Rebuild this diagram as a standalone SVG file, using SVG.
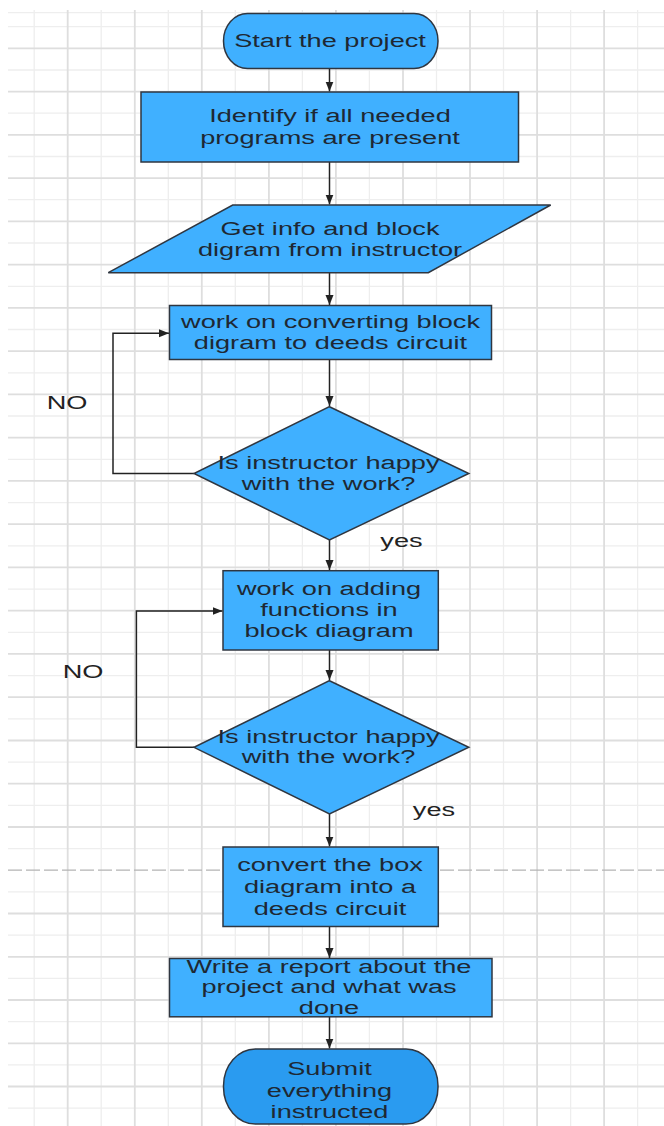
<svg xmlns="http://www.w3.org/2000/svg" width="664" height="1126" viewBox="0 0 664 1126">
  <style>
    .minor { stroke: #eeeeee; stroke-width: 1.3; fill: none; }
    .major { stroke: #dedede; stroke-width: 1.8; fill: none; }
    .dash { stroke: #b4b4b4; stroke-width: 1.2; stroke-dasharray: 14 4; fill: none; }
    .shape { fill: #40b0ff; stroke: #2f3640; stroke-width: 1.5; }
    .shape2 { fill: #2a9bf0; stroke: #2f3640; stroke-width: 1.5; }
    .t { font-family: "Liberation Sans", Arial, sans-serif; font-size: 19px; fill: #1e2833; text-anchor: middle; }
    .lbl { font-family: "Liberation Sans", Arial, sans-serif; font-size: 19px; fill: #222222; text-anchor: middle; }
    .conn { stroke: #222222; stroke-width: 1.5; fill: none; }
  </style>
  <defs>
    <marker id="arrow" markerUnits="userSpaceOnUse" markerWidth="11" markerHeight="9" refX="10" refY="4" orient="auto">
      <path d="M0,0 L10,4 L0,8 Z" fill="#222222"/>
    </marker>
  </defs>
  <rect x="0" y="0" width="664" height="1126" fill="#ffffff"/>
  <g id="grid">
    <path class="minor" d="M34.2,10V1126M101.2,10V1126M168.3,10V1126M235.3,10V1126M302.4,10V1126M369.4,10V1126M436.5,10V1126M503.5,10V1126M570.6,10V1126M637.6,10V1126
      M8,26.7H664M8,70H664M8,113.2H664M8,156.5H664M8,199.7H664M8,243H664M8,286.3H664M8,329.5H664M8,372.8H664M8,416H664M8,459.3H664M8,502.6H664M8,545.8H664M8,589.1H664M8,632.3H664M8,675.6H664M8,718.9H664M8,762.1H664M8,805.4H664M8,848.6H664M8,891.9H664M8,935.2H664M8,978.4H664M8,1021.7H664M8,1064.9H664M8,1108.2H664M8,12.7H664"/>
    <path class="major" d="M67.7,10V1126M134.8,10V1126M201.8,10V1126M268.9,10V1126M335.9,10V1126M403,10V1126M470,10V1126M537.1,10V1126M604.1,10V1126
      M8,48.3H664M8,91.6H664M8,134.8H664M8,178.1H664M8,221.3H664M8,264.6H664M8,307.9H664M8,351.1H664M8,394.4H664M8,437.6H664M8,480.9H664M8,524.2H664M8,567.4H664M8,610.7H664M8,653.9H664M8,697.2H664M8,740.5H664M8,783.7H664M8,827H664M8,913.5H664M8,956.8H664M8,1000H664M8,1043.3H664M8,1086.5H664"/>
    <path class="dash" d="M8,870.2H664"/>
  </g>
  <g id="connectors">
    <path class="conn" marker-end="url(#arrow)" d="M329.5,68.5V91.5"/>
    <path class="conn" marker-end="url(#arrow)" d="M329.5,162V204.5"/>
    <path class="conn" marker-end="url(#arrow)" d="M329.5,273V305"/>
    <path class="conn" marker-end="url(#arrow)" d="M329.5,359.5V406"/>
    <path class="conn" marker-end="url(#arrow)" d="M329.5,540V570"/>
    <path class="conn" marker-end="url(#arrow)" d="M329.5,650V680"/>
    <path class="conn" marker-end="url(#arrow)" d="M329.5,814V846.5"/>
    <path class="conn" marker-end="url(#arrow)" d="M329.5,927V958"/>
    <path class="conn" marker-end="url(#arrow)" d="M329.5,1017V1048.5"/>
    <path class="conn" marker-end="url(#arrow)" d="M194,473.5H113V333.3H169"/>
    <path class="conn" marker-end="url(#arrow)" d="M194,747.3H136.4V611H222.5"/>
    <text class="lbl" transform="translate(67 0) scale(1.43 1)" x="0" y="409.5">NO</text>
    <text class="lbl" transform="translate(401.5 0) scale(1.43 1)" x="0" y="547">yes</text>
    <text class="lbl" transform="translate(83 0) scale(1.43 1)" x="0" y="678.5">NO</text>
    <text class="lbl" transform="translate(434 0) scale(1.43 1)" x="0" y="816.5">yes</text>
  </g>
  <g id="start">
    <rect class="shape" x="223.5" y="13.5" width="214.5" height="55" rx="24" ry="27.5"/>
    <text class="t" transform="translate(330 0) scale(1.43 1)" x="0" y="47">Start the project</text>
  </g>
  <g id="identify">
    <rect class="shape" x="141" y="92" width="377.5" height="70"/>
    <text class="t" transform="translate(330 0) scale(1.43 1)"><tspan x="0" y="122.5">Identify if all needed</tspan><tspan x="0" y="144.5">programs are present</tspan></text>
  </g>
  <g id="getinfo">
    <polygon class="shape" points="232.7,205 550.7,205 428.3,272.7 108.3,272.7"/>
    <text class="t" transform="translate(330 0) scale(1.43 1)"><tspan x="0" y="235">Get info and block</tspan><tspan x="0" y="256">digram from instructor</tspan></text>
  </g>
  <g id="convert-block">
    <rect class="shape" x="169.5" y="305.5" width="322" height="54"/>
    <text class="t" transform="translate(330.5 0) scale(1.43 1)"><tspan x="0" y="328.5">work on converting block</tspan><tspan x="0" y="349">digram to deeds circuit</tspan></text>
  </g>
  <g id="decision1">
    <polygon class="shape" points="329.5,406.7 468.8,473.5 329.5,540 194,473.5"/>
    <text class="t" transform="translate(328.5 0) scale(1.43 1)"><tspan x="0" y="469.5">Is instructor happy</tspan><tspan x="0" y="490">with the work?</tspan></text>
  </g>
  <g id="adding">
    <rect class="shape" x="223" y="570.7" width="215.3" height="79.3"/>
    <text class="t" transform="translate(329 0) scale(1.43 1)"><tspan x="0" y="595.5">work on adding</tspan><tspan x="0" y="616.5">functions in</tspan><tspan x="0" y="637.5">block diagram</tspan></text>
  </g>
  <g id="decision2">
    <polygon class="shape" points="329.5,680.7 468.8,747.3 329.5,814 194,747.3"/>
    <text class="t" transform="translate(328.5 0) scale(1.43 1)"><tspan x="0" y="743.5">Is instructor happy</tspan><tspan x="0" y="763.5">with the work?</tspan></text>
  </g>
  <g id="convert-box">
    <rect class="shape" x="223" y="847" width="215.3" height="79.5"/>
    <text class="t" transform="translate(330 0) scale(1.43 1)"><tspan x="0" y="871.5">convert the box</tspan><tspan x="0" y="893.3">diagram into a</tspan><tspan x="0" y="915">deeds circuit</tspan></text>
  </g>
  <g id="report">
    <rect class="shape" x="169.5" y="958.5" width="322.5" height="58.3"/>
    <text class="t" transform="translate(329 0) scale(1.43 1)"><tspan x="0" y="973.3">Write a report about the</tspan><tspan x="0" y="993.5">project and what was</tspan><tspan x="0" y="1014.3">done</tspan></text>
  </g>
  <g id="submit">
    <rect class="shape2" x="223.5" y="1049" width="214.5" height="75" rx="32" ry="37"/>
    <text class="t" transform="translate(329.5 0) scale(1.43 1)"><tspan x="0" y="1075">Submit</tspan><tspan x="0" y="1096.7">everything</tspan><tspan x="0" y="1118.3">instructed</tspan></text>
  </g>
</svg>
